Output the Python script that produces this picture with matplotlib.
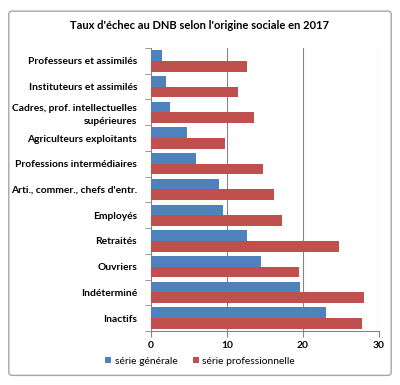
import numpy as np
import matplotlib.pyplot as plt
from matplotlib.patches import FancyBboxPatch

plt.rcParams['font.family'] = ['Lato', 'DejaVu Sans']

categories = [
    "Professeurs et assimilés",
    "Instituteurs et assimilés",
    "Cadres, prof. intellectuelles\nsupérieures",
    "Agriculteurs exploitants",
    "Professions intermédiaires",
    "Arti., commer., chefs d'entr.",
    "Employés",
    "Retraités",
    "Ouvriers",
    "Indéterminé",
    "Inactifs",
]
serie_generale = [1.5, 2.0, 2.5, 4.7, 5.9, 8.9, 9.5, 12.6, 14.5, 19.6, 23.0]
serie_pro = [12.6, 11.5, 13.6, 9.7, 14.7, 16.2, 17.3, 24.7, 19.5, 28.0, 27.8]

BLUE = "#4F81BD"
RED = "#C0504D"

fig = plt.figure(figsize=(4.0, 3.85), dpi=100)
ax = fig.add_axes([0.3775, 0.1403, 0.57, 0.735])

# outer chart frame
frame = FancyBboxPatch((0.022, 0.025), 0.956, 0.946,
                       boxstyle="round,pad=0,rounding_size=0.008",
                       transform=fig.transFigure, fill=False,
                       edgecolor="#A6A6A6", linewidth=1.0)
fig.patches.append(frame)

y = np.arange(len(categories))
h = 0.415
ax.barh(y - h / 2, serie_generale, height=h, color=BLUE, label="série générale", zorder=3)
ax.barh(y + h / 2, serie_pro, height=h, color=RED, label="série professionnelle", zorder=3)

ax.set_xlim(0, 30)
ax.set_ylim(len(categories) - 0.5, -0.5)
ax.set_xticks([0, 10, 20, 30])
ax.xaxis.grid(True, color="#868686", linewidth=0.8, zorder=0)
ax.set_yticks(y)
ax.set_yticklabels(categories, fontsize=7.4, fontweight="bold", linespacing=1.5)
ax.set_yticks(np.arange(-0.5, len(categories), 1), minor=True)
ax.tick_params(axis="y", which="major", length=0, pad=10)
ax.tick_params(axis="y", which="minor", length=4, color="#868686", direction="out")
ax.tick_params(axis="x", length=4, color="#868686", labelsize=7.4, pad=3)
for lbl in ax.get_xticklabels():
    lbl.set_fontweight("bold")

for side in ["top", "right"]:
    ax.spines[side].set_visible(False)
for side in ["left", "bottom"]:
    ax.spines[side].set_color("#868686")
    ax.spines[side].set_linewidth(0.8)

fig.text(0.5, 0.935, "Taux d'échec au DNB selon l'origine sociale en 2017",
         ha="center", va="center", fontsize=8, fontweight="bold")

fig.legend(loc="center", bbox_to_anchor=(0.5, 0.062), ncol=2, frameon=False,
           fontsize=7.4, handlelength=0.6, handleheight=0.6, columnspacing=1.5,
           handletextpad=0.3)

fig.savefig("out.png", dpi=100)
